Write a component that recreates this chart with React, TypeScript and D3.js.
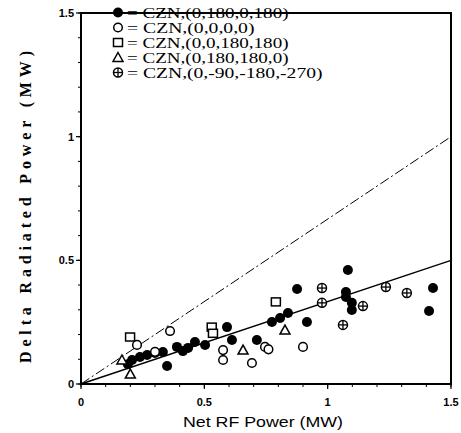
import React from "react";
import * as d3 from "d3";

const W = 461, H = 433;
const margin = { left: 81, right: 10, top: 13, bottom: 48 };

// series: CZN,(0,180,0,180) filled circles
const filledPts: [number, number][] = [
  [0.19, 0.08], [0.207, 0.097], [0.239, 0.109], [0.268, 0.117], [0.3, 0.125], [0.332, 0.129],
  [0.349, 0.073], [0.389, 0.15], [0.413, 0.133], [0.434, 0.146], [0.462, 0.17],
  [0.503, 0.158], [0.535, 0.21], [0.592, 0.23], [0.612, 0.178], [0.713, 0.178],
  [0.774, 0.251], [0.807, 0.267], [0.839, 0.287], [0.876, 0.384], [0.916, 0.251],
  [1.082, 0.461], [1.074, 0.372], [1.074, 0.352], [1.098, 0.328], [1.098, 0.299],
  [1.427, 0.388], [1.411, 0.295],
];
// CZN,(0,0,0,0) open circles
const openCirclePts: [number, number][] = [
  [0.227, 0.158], [0.361, 0.214], [0.3, 0.13], [0.576, 0.137], [0.576, 0.097],
  [0.693, 0.085], [0.746, 0.15], [0.76, 0.14], [0.9, 0.15],
];
// CZN,(0,0,180,180) open squares
const squarePts: [number, number][] = [
  [0.199, 0.19], [0.53, 0.23], [0.535, 0.205], [0.79, 0.332],
];
// CZN,(0,180,180,0) open triangles
const trianglePts: [number, number][] = [
  [0.166, 0.097], [0.2, 0.04], [0.657, 0.137], [0.827, 0.218],
];
// CZN,(0,-90,-180,-270) crossed circles
const crossPts: [number, number][] = [
  [0.977, 0.388], [0.977, 0.328], [1.143, 0.315], [1.062, 0.239], [1.236, 0.392], [1.321, 0.368],
];

const legendLabels = [
  "= CZN,(0,180,0,180)",
  "= CZN,(0,0,0,0)",
  "= CZN,(0,0,180,180)",
  "= CZN,(0,180,180,0)",
  "= CZN,(0,-90,-180,-270)",
];
const legendKinds = ["filled", "open", "square", "triangle", "cross"];

const majorTicks = [0, 0.5, 1, 1.5];
const tickLabels = ["0", "0.5", "1", "1.5"];
const minorTicks = d3.range(0, 1.501, 0.1);

// reference lines
const solidLine: [number, number][] = [[0, 0], [1.5, 0.5]];
const dashLine: [number, number][] = [[0, 0], [1.5, 1.0]];

function Marker({ kind, cx, cy }: { kind: string; cx: number; cy: number }) {
  if (kind === "filled") return <circle cx={cx} cy={cy} r={5} fill="#000" />;
  if (kind === "open")
    return <circle cx={cx} cy={cy} r={4.3} fill="#fff" stroke="#000" strokeWidth={1.5} />;
  if (kind === "square")
    return <rect x={cx - 4.5} y={cy - 4} width={9} height={8} fill="#fff" stroke="#000" strokeWidth={1.5} />;
  if (kind === "triangle") {
    const s = 5;
    return (
      <path
        d={`M${cx},${cy - s} L${cx + s},${cy + s * 0.8} L${cx - s},${cy + s * 0.8} Z`}
        fill="#fff"
        stroke="#000"
        strokeWidth={1.5}
      />
    );
  }
  return (
    <g>
      <circle cx={cx} cy={cy} r={4.5} fill="#fff" stroke="#000" strokeWidth={1.5} />
      <line x1={cx - 4.5} x2={cx + 4.5} y1={cy} y2={cy} stroke="#000" strokeWidth={1.3} />
      <line x1={cx} x2={cx} y1={cy - 4.5} y2={cy + 4.5} stroke="#000" strokeWidth={1.3} />
    </g>
  );
}

export default function App() {
  const x = d3.scaleLinear().domain([0, 1.5]).range([margin.left, W - margin.right]);
  const y = d3.scaleLinear().domain([0, 1.5]).range([H - margin.bottom - 1, margin.top]);
  const line = d3.line<[number, number]>().x((d) => x(d[0])).y((d) => y(d[1]));
  const x0 = x(0), x1 = x(1.5), y0 = y(0), y1 = y(1.5);
  const tickFont = "Liberation Sans, Arial, sans-serif";
  const serif = "Liberation Serif, Times New Roman, serif";

  return (
    <svg width={W} height={H} style={{ position: "absolute", left: 0, top: 0, background: "#fff" }}>
      <rect width={W} height={H} fill="#fff" />
      {/* reference lines */}
      <path d={line(dashLine) || ""} stroke="#000" strokeWidth={1} fill="none" strokeDasharray="10 3 2 3" />
      <path d={line(solidLine) || ""} stroke="#000" strokeWidth={1.4} fill="none" />

      {/* points */}
      {filledPts.map((d, i) => <Marker key={"f" + i} kind="filled" cx={x(d[0])} cy={y(d[1])} />)}
      {openCirclePts.map((d, i) => <Marker key={"o" + i} kind="open" cx={x(d[0])} cy={y(d[1])} />)}
      {squarePts.map((d, i) => <Marker key={"s" + i} kind="square" cx={x(d[0])} cy={y(d[1])} />)}
      {trianglePts.map((d, i) => <Marker key={"t" + i} kind="triangle" cx={x(d[0])} cy={y(d[1])} />)}
      {crossPts.map((d, i) => <Marker key={"c" + i} kind="cross" cx={x(d[0])} cy={y(d[1])} />)}

      {/* frame */}
      <rect x={x0} y={y1} width={x1 - x0} height={y0 - y1} fill="none" stroke="#000" strokeWidth={2} />

      {/* ticks */}
      {minorTicks.map((t, i) => (
        <g key={"m" + i}>
          <line x1={x(t)} x2={x(t)} y1={y0} y2={y0 + 3} stroke="#000" strokeWidth={1} />
          <line x1={x0} x2={x0 - 3} y1={y(t)} y2={y(t)} stroke="#000" strokeWidth={1} />
        </g>
      ))}
      {majorTicks.map((t, i) => (
        <g key={"M" + i}>
          <line x1={x(t)} x2={x(t)} y1={y0} y2={y0 + 5} stroke="#000" strokeWidth={1.2} />
          <line x1={x0} x2={x0 - 5} y1={y(t)} y2={y(t)} stroke="#000" strokeWidth={1.2} />
          <text x={x(t)} y={y0 + 22} textAnchor="middle" fontFamily={tickFont} fontSize={11} fontWeight="bold">
            {tickLabels[i]}
          </text>
          <text x={x0 - 7} y={y(t) + 4} textAnchor="end" fontFamily={tickFont} fontSize={11} fontWeight="bold">
            {tickLabels[i]}
          </text>
        </g>
      ))}

      {/* axis titles */}
      <text
        x={263}
        y={427}
        textAnchor="middle"
        fontFamily={tickFont}
        fontSize={15}
        textLength={160}
        lengthAdjust="spacingAndGlyphs"
      >
        Net RF Power (MW)
      </text>
      <text
        transform={`translate(31,207) rotate(-90)`}
        textAnchor="middle"
        fontFamily={serif}
        fontSize={16}
        fontWeight="bold"
        textLength={312}
        lengthAdjust="spacing"
      >
        Delta Radiated Power (MW)
      </text>

      {/* legend */}
      {legendLabels.map((lab, i) => {
        const ly = 17 + i * 15;
        return (
          <g key={"l" + i}>
            <Marker kind={legendKinds[i]} cx={118} cy={ly - 4.5} />
            <text
              x={127}
              y={ly + 1}
              fontFamily={serif}
              fontSize={15}
              textLength={lab.length * 8.5}
              lengthAdjust="spacingAndGlyphs"
            >
              {lab}
            </text>
          </g>
        );
      })}
    </svg>
  );
}
